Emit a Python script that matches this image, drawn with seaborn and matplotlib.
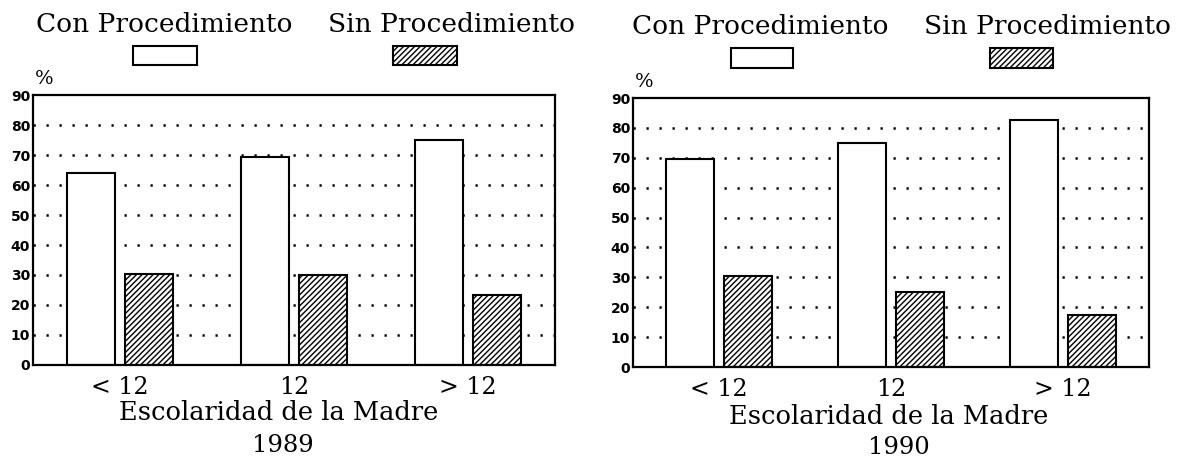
import matplotlib
matplotlib.use("Agg")
import matplotlib.pyplot as plt
from matplotlib.patches import Rectangle
import seaborn as sns
import pandas as pd

categories = ["< 12", "12", "> 12"]
series_names = ["Con Procedimiento", "Sin Procedimiento"]
con_1989 = [64, 69.5, 75]
sin_1989 = [30.5, 30, 23.5]
con_1990 = [69.5, 75, 82.5]
sin_1990 = [30.5, 25, 17.5]
years = ["1989", "1990"]
yticks = [0, 10, 20, 30, 40, 50, 60, 70, 80, 90]
xlabel = "Escolaridad de la Madre"

sns.set_theme(style="white")
plt.rcParams["font.family"] = ["DejaVu Serif"]
plt.rcParams["text.color"] = "black"
plt.rcParams["xtick.color"] = "black"
plt.rcParams["ytick.color"] = "black"
plt.rcParams["hatch.linewidth"] = 1.0
plt.rcParams["hatch.color"] = "black"

W, H = 1186, 465
fig = plt.figure(figsize=(W / 100, H / 100), dpi=100)

# axes rects in pixels: left, top, right, bottom
rects = [(33, 95, 555, 365), (633, 98, 1149, 367)]
legend_boxes = [
    ((133, 46, 197, 65), (393, 46, 457, 65)),
    ((731, 48, 793, 68), (990, 48, 1053, 68)),
]
legend_text_x = [(164, 452), (760, 1047)]
legend_text_y = [32, 34]
xlabel_pos = [(0.471, -0.205), (0.496, -0.212)]
year_pos = [(0.479, -0.323), (0.516, -0.324)]

datasets = [(con_1989, sin_1989), (con_1990, sin_1990)]
HATCH = "//////"

for i, (con, sin) in enumerate(datasets):
    l, t, r, b = rects[i]
    ax = fig.add_axes([l / W, 1 - b / H, (r - l) / W, (b - t) / H])
    df = pd.DataFrame({
        "cat": categories * 2,
        "val": list(con) + list(sin),
        "serie": [series_names[0]] * 3 + [series_names[1]] * 3,
    })
    sns.barplot(data=df, x="cat", y="val", hue="serie", order=categories,
                hue_order=series_names,
                palette={series_names[0]: "white", series_names[1]: "white"},
                edgecolor="black", linewidth=1.5, width=0.667, gap=0.16,
                legend=False, ax=ax, saturation=1)
    for p in ax.containers[1]:
        p.set_hatch(HATCH)
    ax.set_ylim(0, 90)
    ax.set_xlim(-0.5, 2.5)
    ax.set_yticks(yticks)
    ax.set_yticklabels([str(v) for v in yticks], fontfamily="DejaVu Sans",
                       fontweight="bold", fontsize=10)
    ax.tick_params(axis="y", length=0, pad=2)
    ax.tick_params(axis="x", length=0, pad=8, labelsize=17)
    ax.set_xlabel("")
    ax.set_ylabel("")
    ax.set_axisbelow(True)
    ax.yaxis.grid(True, color="black", linestyle=(0, (0.9, 4.3)), linewidth=1.8)
    ax.xaxis.grid(False)
    for s in ax.spines.values():
        s.set_visible(True)
        s.set_color("black")
        s.set_linewidth(1.6)
    for gl, v in zip(ax.yaxis.get_gridlines(), yticks):
        if v in (0, 90):
            gl.set_visible(False)
    ax.text(0.004, 1.025, "%", transform=ax.transAxes, fontsize=14,
            ha="left", va="bottom")
    ax.text(xlabel_pos[i][0], xlabel_pos[i][1], xlabel, transform=ax.transAxes,
            fontsize=18.5, ha="center", va="baseline")
    ax.text(year_pos[i][0], year_pos[i][1], years[i], transform=ax.transAxes,
            fontsize=17.5, ha="center", va="baseline")

    for j, name in enumerate(series_names):
        fig.text(legend_text_x[i][j] / W, 1 - legend_text_y[i] / H, name,
                 fontsize=19, ha="center", va="baseline")
        bx0, by0, bx1, by1 = legend_boxes[i][j]
        rect = Rectangle((bx0 / W, 1 - by1 / H), (bx1 - bx0) / W, (by1 - by0) / H,
                         transform=fig.transFigure, facecolor="white",
                         edgecolor="black", linewidth=1.5,
                         hatch=HATCH if j == 1 else None)
        fig.patches.append(rect)

fig.savefig("out.png", dpi=100, facecolor="white")
